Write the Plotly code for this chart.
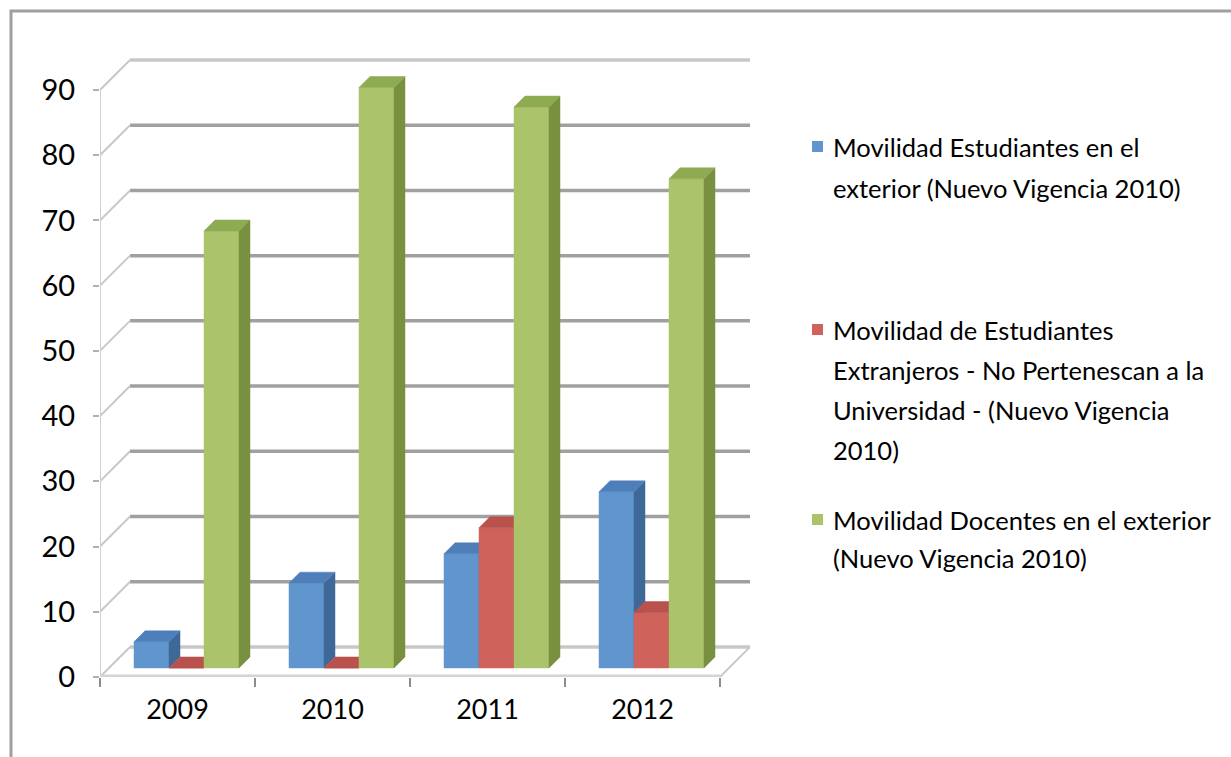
import plotly.graph_objects as go

# ---- data ----
years = ["2009", "2010", "2011", "2012"]
series_names = [
    "Movilidad Estudiantes en el exterior (Nuevo Vigencia 2010)",
    "Movilidad de Estudiantes Extranjeros - No Pertenescan a la Universidad - (Nuevo Vigencia 2010)",
    "Movilidad Docentes en el exterior (Nuevo Vigencia 2010)",
]
estudiantes_exterior = [4, 13, 17.5, 27]
estudiantes_extranjeros = [0, 0, 21.5, 8.5]
docentes_exterior = [67, 89, 86, 75]
y_ticks = [0, 10, 20, 30, 40, 50, 60, 70, 80, 90]

legend_lines = [
    ["Movilidad Estudiantes en el", "exterior (Nuevo Vigencia 2010)"],
    ["Movilidad de Estudiantes", "Extranjeros - No Pertenescan a la",
     "Universidad - (Nuevo Vigencia", "2010)"],
    ["Movilidad Docentes en el exterior", "(Nuevo Vigencia 2010)"],
]

# ---- styling / geometry ----
W, H = 1231, 757
PL, PR, PT, PB = 100, 750, 40, 677      # plot area in pixels
PPX = 155.0                              # pixels per category
PPY = 587.0 / 90.0                       # pixels per value unit
XR = [-0.5, -0.5 + (PR - PL) / PPX]
YR = [-0.01, (PB - PT) / PPY]

WALL = 30     # depth of the 3D box (px)
BAR_IN = 9    # bar front plane offset (px)
BAR_D = 11    # bar depth (px)
BW = 35 / PPX # bar width in category units

colors = [
    dict(front="#6096cd", side="#3e6898", top="#4f7fba"),
    dict(front="#cf635c", side="#a94944", top="#b9524d"),
    dict(front="#abc46c", side="#789040", top="#8fab52"),
]
values = [estudiantes_exterior, estudiantes_extranjeros, docentes_exterior]

def dxu(px):
    return px / PPX

def dyu(px):
    return px / PPY

def xp(px):
    return (px - PL) / (PR - PL)

def yp(py):
    return (PB - py) / (PB - PT)

fig = go.Figure()

# bars drawn as 3D boxes (front, side, top faces)
for s, vals in enumerate(values):
    c = colors[s]
    for i, v in enumerate(vals):
        cx = i + dxu(BAR_IN) + (s - 1) * BW
        x0, x1 = cx - BW / 2, cx + BW / 2
        b = dyu(BAR_IN)
        t = b + v
        ddx, ddy = dxu(BAR_D), dyu(BAR_D)
        faces = [
            ([x0, x1, x1, x0, x0], [b, b, t, t, b], c["front"]),
            ([x1, x1 + ddx, x1 + ddx, x1, x1], [b, b + ddy, t + ddy, t, b], c["side"]),
            ([x0, x1, x1 + ddx, x0 + ddx, x0], [t, t, t + ddy, t + ddy, t], c["top"]),
        ]
        for fx, fy, col in faces:
            fig.add_trace(go.Scatter(
                x=fx, y=fy, mode="lines", fill="toself", fillcolor=col,
                line=dict(width=0.5, color=col), hoverinfo="skip",
                showlegend=False, name=series_names[s]))

shapes = []
# back wall gridlines and left wall diagonals
for v in y_ticks:
    shapes.append(dict(type="line", xref="x", yref="y", layer="below",
                       x0=XR[0] + dxu(WALL), x1=XR[1], y0=v + dyu(WALL), y1=v + dyu(WALL),
                       line=dict(color="#a0a0a0" if v not in (0, 90) else "#c8c8c8", width=3.5)))
    shapes.append(dict(type="line", xref="x", yref="y", layer="below",
                       x0=XR[0], x1=XR[0] + dxu(WALL), y0=v, y1=v + dyu(WALL),
                       line=dict(color="#c8c8c8", width=2)))
# left front vertical axis line
shapes.append(dict(type="line", xref="x", yref="y", layer="below",
                   x0=XR[0], x1=XR[0], y0=0, y1=y_ticks[-1],
                   line=dict(color="#cfcfcf", width=2)))
# floor front edge and right diagonal
shapes.append(dict(type="line", xref="x", yref="y", layer="below",
                   x0=-0.5, x1=len(years) - 0.5, y0=0, y1=0,
                   line=dict(color="#d4d4d4", width=5)))
shapes.append(dict(type="line", xref="x", yref="y", layer="below",
                   x0=len(years) - 0.5, x1=XR[1], y0=0, y1=dyu(WALL),
                   line=dict(color="#c8c8c8", width=2)))
# outer chart frame
shapes.append(dict(type="rect", xref="paper", yref="paper", layer="below",
                   x0=xp(11), x1=xp(W + 20), y0=yp(11), y1=yp(H + 20),
                   line=dict(color="#9f9f9f", width=3)))

# custom legend
FONT = "Lato"
annotations = []
sq_y = [147, 330, 520]
line_y = [[147, 188], [330, 370, 410, 450], [520, 558]]
for s in range(3):
    shapes.append(dict(type="rect", xref="paper", yref="paper",
                       x0=xp(812), x1=xp(823), y0=yp(sq_y[s] - 6), y1=yp(sq_y[s] + 5),
                       fillcolor=colors[s]["front"], line=dict(width=0)))
    for txt, ly in zip(legend_lines[s], line_y[s]):
        annotations.append(dict(xref="paper", yref="paper", x=xp(831), y=yp(ly),
                                xanchor="left", yanchor="middle", showarrow=False,
                                text=txt, font=dict(family=FONT, size=25.5, color="#000000")))

fig.update_layout(
    width=W, height=H,
    margin=dict(l=PL, r=W - PR, t=PT, b=H - PB),
    paper_bgcolor="white", plot_bgcolor="white",
    showlegend=False,
    shapes=shapes, annotations=annotations,
    font=dict(family=FONT, size=25, color="#000000"),
    xaxis=dict(range=XR, showgrid=False, zeroline=False, showline=False,
               tickmode="array", tickvals=list(range(len(years))), ticktext=years,
               ticks="", tickfont=dict(size=27), ticklabelstandoff=14,
               minor=dict(tickmode="array", tickvals=[k - 0.5 for k in range(len(years) + 1)],
                          ticks="outside", ticklen=9, tickcolor="#8c8c8c", tickwidth=2),
               fixedrange=True),
    yaxis=dict(range=YR, showgrid=False, zeroline=False, showline=False,
               tickmode="array", tickvals=y_ticks, ticks="outside", ticklen=6,
               tickcolor="#b0b0b0", tickwidth=2, tickfont=dict(size=29),
               ticklabelstandoff=12, fixedrange=True),
)

fig.write_html("out.html", config={"displayModeBar": False},
               post_script="document.body.style.margin='0';document.body.style.padding='0';")
